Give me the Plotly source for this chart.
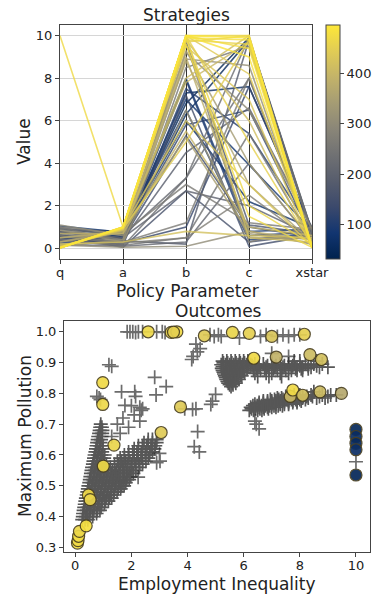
import plotly.graph_objects as go
from plotly.colors import sample_colorscale, sequential

# ---------------- data: strategies (parallel coordinates) ----------------
PARAMS = ["q", "a", "b", "c", "xstar"]
Q  = [10.0, 0.02, 0.03, 0.05, 0.04, 0.02, 0.06, 0.03, 0.05, 0.02, 0.08, 0.04, 0.10, 0.06,
      0.50, 0.30, 0.70, 0.20, 1.10, 0.90, 0.60, 0.40, 0.80, 1.00, 0.35, 0.50, 0.70, 0.90,
      0.30, 0.45, 0.60, 0.80, 1.05, 0.25, 0.55, 0.65, 0.40, 0.75, 0.20, 0.95, 0.15, 0.85,
      0.50, 0.30, 0.70, 0.10, 0.60, 0.45, 0.05, 0.02, 0.04, 0.03, 0.90, 0.35, 1.00]
A  = [1.00, 1.00, 0.98, 0.97, 1.00, 0.95, 0.99, 0.96, 0.93, 1.00, 0.90, 0.88, 0.85, 0.92,
      0.80, 0.75, 0.70, 0.30, 0.60, 0.40, 0.20, 0.10, 0.50, 0.30, 0.15, 0.60, 0.70, 0.80,
      0.55, 0.65, 0.50, 0.45, 0.75, 0.35, 0.25, 0.05, 0.20, 0.40, 0.10, 0.60, 0.05, 0.30,
      0.70, 0.90, 0.25, 0.40, 0.15, 0.35, 0.95, 0.99, 0.97, 0.94, 0.65, 0.50, 0.70]
B  = [10.0, 10.0, 9.9, 9.8, 10.0, 9.7, 10.0, 9.5, 10.0, 9.9, 10.0, 8.0, 7.8, 5.0,
      9.0, 8.8, 5.5, 0.8, 9.2, 9.7, 8.5, 3.3, 2.7, 1.2, 0.5, 7.3, 7.0, 6.5,
      6.3, 6.0, 5.8, 5.3, 8.0, 7.5, 1.0, 2.7, 9.7, 4.5, 0.3, 3.3, 0.1, 6.5,
      9.3, 5.2, 0.5, 8.9, 7.2, 0.2, 6.0, 9.6, 10.0, 9.8, 6.8, 7.9, 3.0]
C  = [10.0, 9.9, 9.8, 9.6, 9.4, 10.0, 8.2, 7.0, 5.0, 2.0, 0.5, 10.0, 9.7, 9.8,
      0.8, 3.0, 1.0, 0.6, 6.5, 0.3, 9.5, 9.9, 2.0, 8.0, 5.4, 7.6, 3.9, 0.4,
      9.8, 2.2, 6.5, 1.0, 0.8, 5.4, 7.6, 0.3, 1.1, 6.6, 4.0, 8.0, 0.8, 0.5,
      4.0, 0.7, 2.5, 8.6, 0.1, 9.8, 3.0, 1.5, 9.0, 6.0, 9.9, 0.6, 1.2]
XS = [0.05, 0.02, 0.05, 0.08, 0.10, 0.03, 0.12, 0.06, 0.15, 0.20, 0.30, 0.10, 0.05, 0.15,
      0.40, 0.30, 0.60, 0.50, 0.90, 1.00, 0.70, 0.80, 0.60, 0.50, 0.40, 0.90, 0.85, 0.70,
      0.75, 0.95, 0.60, 0.55, 0.90, 0.80, 0.85, 0.65, 0.70, 1.00, 0.35, 0.50, 0.20, 0.45,
      0.35, 0.25, 0.30, 0.20, 0.60, 0.80, 0.10, 0.05, 0.02, 0.08, 0.65, 0.75, 0.90]
SCORE = [470, 490, 480, 460, 475, 450, 440, 430, 455, 465, 420, 410, 400, 445,
         380, 360, 390, 420, 300, 280, 250, 230, 200, 260, 240, 60, 80, 100,
         50, 70, 120, 140, 90, 110, 130, 160, 170, 190, 210, 220, 300, 320,
         340, 350, 270, 310, 150, 180, 430, 470, 485, 415, 40, 95, 260]
SCORE_MIN, SCORE_MAX = 32, 495
CBAR_TICKS = [100, 200, 300, 400]

# ---------------- data: outcomes (scatter), rows of (y, [x ...]) ----------------
WEDGE_ROWS = [
    (0.39, [0.25, 0.35, 0.45]),
    (0.40, [0.27, 0.38, 0.50, 0.62]),
    (0.41, [0.28, 0.40, 0.52, 0.64, 0.76]),
    (0.42, [0.30, 0.42, 0.54, 0.66, 0.78, 0.88]),
    (0.43, [0.32, 0.44, 0.56, 0.68, 0.80, 0.92]),
    (0.44, [0.34, 0.46, 0.58, 0.70, 0.82, 0.94, 1.04]),
    (0.45, [0.36, 0.48, 0.60, 0.72, 0.84, 0.96, 1.08, 1.18]),
    (0.46, [0.38, 0.50, 0.62, 0.74, 0.86, 0.98, 1.10, 1.22, 1.30]),
    (0.47, [0.41, 0.53, 0.65, 0.77, 0.89, 1.01, 1.13, 1.25, 1.37]),
    (0.48, [0.43, 0.55, 0.67, 0.79, 0.91, 1.03, 1.15, 1.27, 1.39, 1.49]),
    (0.49, [0.45, 0.57, 0.69, 0.81, 0.93, 1.05, 1.17, 1.29, 1.41, 1.53, 1.62]),
    (0.50, [0.47, 0.59, 0.71, 0.83, 0.95, 1.07, 1.19, 1.31, 1.43, 1.55, 1.66, 1.74]),
    (0.51, [0.50, 0.62, 0.74, 0.86, 0.98, 1.10, 1.22, 1.34, 1.46, 1.58, 1.70, 1.80]),
    (0.52, [0.52, 0.64, 0.76, 0.88, 1.00, 1.12, 1.24, 1.36, 1.48, 1.60, 1.72, 1.84, 1.92]),
    (0.53, [0.54, 0.66, 0.78, 0.90, 1.02, 1.14, 1.26, 1.38, 1.50, 1.62, 1.74, 1.86, 1.98]),
    (0.54, [0.56, 0.68, 0.80, 0.92, 1.04, 1.16, 1.29, 1.42, 1.55, 1.68, 1.81, 1.94, 2.07]),
    (0.55, [0.58, 0.70, 0.82, 0.94, 1.06, 1.18, 1.32, 1.46, 1.60, 1.74, 1.88, 2.02, 2.16]),
    (0.56, [0.60, 0.72, 0.84, 0.96, 1.08, 1.25, 1.40, 1.55, 1.70, 1.85, 2.00, 2.15, 2.28]),
    (0.57, [0.63, 0.75, 0.87, 0.99, 1.11, 1.40, 1.55, 1.70, 1.85, 2.00, 2.15, 2.30, 2.40]),
    (0.58, [0.65, 0.77, 0.89, 1.01, 1.50, 1.65, 1.80, 1.95, 2.10, 2.25, 2.40, 2.52]),
    (0.59, [0.67, 0.79, 0.91, 1.03, 1.60, 1.75, 1.90, 2.05, 2.20, 2.35, 2.50, 2.60]),
    (0.60, [0.69, 0.81, 0.93, 1.05, 1.75, 1.90, 2.05, 2.20, 2.35, 2.50, 2.65]),
    (0.61, [0.72, 0.84, 0.96, 1.90, 2.05, 2.20, 2.35, 2.50, 2.65, 2.75]),
    (0.62, [0.74, 0.86, 0.98, 2.10, 2.25, 2.40, 2.55, 2.70, 2.82]),
    (0.63, [0.76, 0.88, 0.99, 2.25, 2.40, 2.55, 2.70, 2.85]),
    (0.64, [0.78, 0.90, 2.45, 2.60, 2.75, 2.90]),
    (0.65, [0.80, 0.92, 2.60, 2.75, 2.90]),
    (0.66, [0.82, 0.94]),
    (0.67, [0.85, 0.96]),
    (0.68, [0.87, 0.97]),
    (0.69, [0.89, 0.95]),
    (0.70, [0.91]),
]
BLOB_ROWS = [
    (0.905, [5.25, 5.40, 5.55, 5.70, 5.85, 6.00, 6.15, 7.8, 8.0, 8.6]),
    (0.899, [5.28, 5.43, 5.58, 5.73, 5.88, 6.03, 6.18]),
    (0.895, [6.4, 6.7, 7.0, 7.3, 7.6, 7.8, 8.0, 8.2, 8.5, 8.8]),
    (0.893, [5.20, 5.35, 5.50, 5.65, 5.80, 5.95, 6.10, 6.25]),
    (0.890, [6.3, 6.55, 6.85, 7.15, 7.45, 7.75, 8.0, 8.3, 8.6]),
    (0.887, [5.25, 5.40, 5.55, 5.70, 5.85, 6.00, 6.15]),
    (0.885, [6.5, 6.8, 7.1, 7.4, 7.7, 7.9, 8.1, 8.4, 8.7, 9.0]),
    (0.881, [5.22, 5.37, 5.52, 5.67, 5.82, 5.97, 6.12]),
    (0.880, [6.45, 6.75, 7.05, 7.35, 7.6, 7.85, 8.05, 8.3]),
    (0.875, [5.25, 5.40, 5.55, 5.70, 5.85, 6.00, 6.35, 6.6, 6.9, 7.2, 7.5, 7.7, 7.9, 8.1]),
    (0.869, [5.28, 5.43, 5.58, 5.73, 5.88, 6.03]),
    (0.865, [6.4, 6.8, 7.0, 7.3, 7.6]),
    (0.863, [5.30, 5.45, 5.60, 5.75, 5.90]),
    (0.857, [5.33, 5.48, 5.63, 5.78, 5.93]),
    (0.855, [6.5, 6.9, 7.35]),
    (0.851, [5.36, 5.51, 5.66, 5.81]),
    (0.845, [5.38, 5.53, 5.68, 5.83]),
    (0.839, [5.42, 5.57, 5.70]),
    (0.833, [5.45, 5.60, 5.72]),
    (0.828, [5.50, 5.62]),
    (0.822, [5.55]),
]
BAND_ROWS = [
    (0.745, [6.2, 6.35, 6.5, 6.65]),
    (0.750, [6.28, 6.43, 6.58, 6.73, 6.88]),
    (0.755, [6.25, 6.4, 6.55, 6.7, 6.85, 7.0, 7.15]),
    (0.760, [6.33, 6.48, 6.63, 6.78, 6.93, 7.08, 7.23, 7.38]),
    (0.765, [6.4, 6.55, 6.7, 6.85, 7.0, 7.15, 7.3, 7.45, 7.6]),
    (0.770, [6.55, 6.7, 6.85, 7.0, 7.15, 7.3, 7.45, 7.6, 7.75, 7.9]),
    (0.775, [6.7, 6.85, 7.0, 7.15, 7.3, 7.45, 7.6, 7.75, 7.9, 8.05]),
    (0.780, [6.95, 7.1, 7.25, 7.4, 7.55, 7.7, 7.85, 8.0, 8.2]),
    (0.785, [7.2, 7.35, 7.5, 7.65, 7.8, 7.95, 8.1, 8.3, 8.6, 8.9]),
    (0.790, [7.5, 7.65, 7.8, 7.95, 8.1, 8.25, 8.45, 8.7, 9.0]),
    (0.795, [7.8, 8.0, 8.4, 8.8, 9.1, 9.3]),
    (0.805, [8.5]),
]
SPARSE_X = [1.85, 1.95, 2.05, 2.15, 2.25, 2.40, 2.90, 3.10, 3.20, 4.80, 4.95, 5.10, 5.20, 5.85,
            6.60, 6.80, 7.20, 7.40, 7.60, 7.80, 8.00, 4.30, 4.45, 4.20, 4.15, 4.35, 7.0, 7.6,
            1.20, 1.30, 2.83, 3.24, 2.88, 1.65, 2.12, 2.15, 1.77, 2.30, 2.35, 3.00, 2.90, 3.02,
            2.24, 0.77, 0.85, 0.90, 1.50, 1.70, 1.90, 2.10, 1.60, 2.30, 1.30, 2.40, 2.00,
            4.36, 4.24, 4.42, 4.18, 4.30, 4.89, 5.00, 4.83, 6.45, 6.55, 6.40, 10.0, 3.90]
SPARSE_Y = [1.00, 1.00, 1.00, 0.998, 1.00, 1.00, 1.00, 1.00, 0.998, 0.99, 0.985, 0.99, 0.985, 0.98,
            0.985, 0.99, 0.985, 0.99, 0.985, 0.99, 0.99, 0.96, 0.945, 0.92, 0.91, 0.935, 0.93, 0.92,
            0.893, 0.888, 0.852, 0.822, 0.795, 0.805, 0.805, 0.79, 0.761, 0.755, 0.745, 0.605, 0.575, 0.58,
            0.528, 0.79, 0.785, 0.78, 0.70, 0.72, 0.69, 0.73, 0.67, 0.71, 0.66, 0.75, 0.76,
            0.676, 0.627, 0.61, 0.748, 0.75, 0.775, 0.797, 0.764, 0.70, 0.685, 0.71, 0.578, 0.75]
# highlighted outcomes (coloured by score)
CIRC_X = [0.08, 0.10, 0.12, 0.15, 0.39, 0.47, 0.53, 1.00, 1.38, 3.06, 0.98, 0.98, 3.75,
          2.60, 3.42, 3.62, 3.50, 4.60, 5.60, 6.20, 7.00, 8.16, 6.36, 7.16, 8.36, 8.77,
          7.66, 7.75, 8.10, 8.72, 9.48, 10.0, 10.0, 10.0, 10.0, 10.0]
CIRC_Y = [0.314, 0.322, 0.336, 0.352, 0.370, 0.470, 0.455, 0.564, 0.632, 0.673, 0.835, 0.764, 0.756,
          1.000, 0.998, 1.000, 0.999, 0.987, 0.998, 0.995, 0.985, 0.992, 0.914, 0.918, 0.926, 0.910,
          0.790, 0.811, 0.794, 0.805, 0.800, 0.683, 0.660, 0.638, 0.617, 0.535]
CIRC_SCORE = [480, 470, 475, 465, 480, 470, 460, 470, 460, 440, 470, 465, 440,
              465, 455, 470, 450, 440, 460, 450, 430, 450, 470, 390, 410, 420,
              400, 470, 420, 410, 370, 50, 60, 55, 65, 45]

# ---------------- figure ----------------
W, H = 374, 596
FONT = "DejaVu Sans"
TXT = "#222222"
AX = "#444444"


def px_x(p):
    return p / W


def px_y(p):
    return 1 - p / H


def rows_xy(rows):
    xs, ys = [], []
    for y, row in rows:
        xs += row
        ys += [y] * len(row)
    return xs, ys


fig = go.Figure()

cols = sample_colorscale(sequential.Cividis,
                         [(s - SCORE_MIN) / (SCORE_MAX - SCORE_MIN) for s in SCORE])
order = sorted(range(len(SCORE)), key=lambda i: SCORE[i])
for i in order:
    fig.add_trace(go.Scatter(
        x=list(range(len(PARAMS))), y=[Q[i], A[i], B[i], C[i], XS[i]],
        mode="lines", line=dict(color=cols[i], width=1.6), opacity=0.8,
        xaxis="x", yaxis="y", showlegend=False, hoverinfo="skip"))

# colour bar carrier
fig.add_trace(go.Scatter(
    x=[None, None], y=[None, None], mode="markers", xaxis="x", yaxis="y", showlegend=False,
    marker=dict(color=[SCORE_MIN, SCORE_MAX], colorscale="Cividis", cmin=SCORE_MIN, cmax=SCORE_MAX,
                showscale=True,
                colorbar=dict(x=px_x(326), xanchor="left", xpad=0, ypad=0,
                              y=px_y((25 + 259) / 2), yanchor="middle",
                              len=234 / H, lenmode="fraction", thickness=14, thicknessmode="pixels",
                              outlinewidth=1, outlinecolor=AX, tickvals=CBAR_TICKS,
                              ticks="outside", ticklen=4, tickcolor=AX,
                              tickfont=dict(family=FONT, size=13, color=TXT)))))

cross_style = dict(symbol="cross-thin", size=10, color="#2e2e2e", line=dict(width=1.7, color="#2e2e2e"))
for (xs, ys), op in [(rows_xy(WEDGE_ROWS), 0.8), (rows_xy(BLOB_ROWS), 0.8),
                     (rows_xy(BAND_ROWS), 0.8), ((SPARSE_X, SPARSE_Y), 0.7)]:
    fig.add_trace(go.Scatter(x=xs, y=ys, mode="markers", marker=cross_style, opacity=op,
                             xaxis="x2", yaxis="y2", showlegend=False, hoverinfo="skip"))

fig.add_trace(go.Scatter(
    x=CIRC_X, y=CIRC_Y, mode="markers", xaxis="x2", yaxis="y2", showlegend=False,
    marker=dict(size=12, color=CIRC_SCORE, colorscale="Cividis", cmin=SCORE_MIN, cmax=SCORE_MAX,
                opacity=0.92, line=dict(width=1.2, color="#4a4020"))))

tick_font = dict(family=FONT, size=13, color=TXT)
common = dict(showline=True, mirror=True, linecolor=AX, linewidth=1, ticks="outside",
              ticklen=4, tickcolor=AX, tickfont=tick_font, zeroline=False, automargin=False)

fig.update_layout(
    width=W, height=H, margin=dict(l=0, r=0, t=0, b=0, autoexpand=False),
    paper_bgcolor="white", plot_bgcolor="white",
    font=dict(family=FONT, color=TXT),
    xaxis=dict(domain=[px_x(60), px_x(312)], range=[0, len(PARAMS) - 1],
               tickvals=list(range(len(PARAMS))), ticktext=PARAMS, ticklabelstandoff=-3,
               showgrid=True, gridcolor="#333333", gridwidth=1, **common),
    yaxis=dict(domain=[px_y(259), px_y(25)], range=[-0.5, 10.5], dtick=2,
               showgrid=True, gridcolor="#d6d6d6", gridwidth=1, **common),
    xaxis2=dict(domain=[px_x(64), px_x(370)], range=[-0.4, 10.5], dtick=2,
                showgrid=False, anchor="y2", ticklabelstandoff=-3, **common),
    yaxis2=dict(domain=[px_y(552), px_y(321)], range=[0.285, 1.035], dtick=0.1, tickformat=".1f",
                showgrid=False, anchor="x2", **common),
)

lab = dict(family=FONT, size=17, color=TXT)
annots = [
    ("Strategies", px_x(186), px_y(15), 0),
    ("Policy Parameter", px_x(187), px_y(291), 0),
    ("Value", px_x(24), px_y(142), -90),
    ("Outcomes", px_x(218), px_y(311), 0),
    ("Employment Inequality", px_x(217), px_y(584), 0),
    ("Maximum Pollution", px_x(25), px_y(436), -90),
]
for text, x, y, ang in annots:
    fig.add_annotation(text=text, x=x, y=y, xref="paper", yref="paper", showarrow=False,
                       xanchor="center", yanchor="middle", textangle=ang, font=lab, borderpad=0)

# remove the browser's default page margin so the 374x596 figure fills the window exactly
fig.write_html("out.html", config={"displayModeBar": False},
               post_script="document.body.style.margin='0';"
                           "document.documentElement.style.overflow='hidden';")
